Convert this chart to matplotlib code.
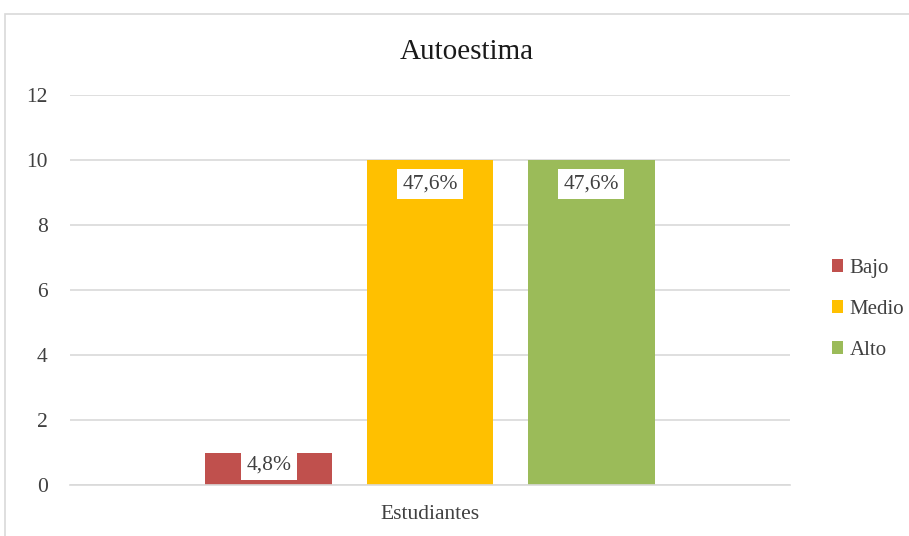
import matplotlib.pyplot as plt
from matplotlib.patches import Rectangle

# data
niveles = ['Bajo', 'Medio', 'Alto']
valores = [1, 10, 10]
etiquetas = ['4,8%', '47,6%', '47,6%']
colores = ['#C0504D', '#FFC000', '#9BBB59']
categoria = 'Estudiantes'

plt.rcParams['font.family'] = ['Liberation Serif', 'DejaVu Serif']

fig = plt.figure(figsize=(9.09, 5.36), dpi=100)
ax = fig.add_axes([0.077, 0.095, 0.792, 0.728])

# chart border
fig.patches.append(Rectangle((5 / 909, -0.01), 1.0, 1 - 14 / 536 + 0.01,
                             transform=fig.transFigure, fill=False,
                             edgecolor='#D9D9D9', linewidth=1.2))

ancho = 0.176
offsets = [-0.224, 0.0, 0.224]
for i, (n, v, e, c) in enumerate(zip(niveles, valores, etiquetas, colores)):
    ax.bar(offsets[i], v, width=ancho, color=c, label=n, zorder=2)
    alto_px = v * 390 / 12
    dy = -24 if alto_px > 50 else -alto_px / 2 + 4
    ax.annotate(e, (offsets[i], v), xytext=(0, dy), textcoords='offset pixels',
                ha='center', va='center', fontsize=15.5, color='#404040',
                bbox=dict(boxstyle='square,pad=0.25', fc='white', ec='none'),
                zorder=3)

ax.set_xlim(-0.5, 0.5)
ax.set_ylim(0, 12)
ax.set_yticks(range(0, 13, 2))
ax.set_xticks([0])
ax.set_xticklabels([categoria])
ax.tick_params(axis='both', length=0, labelsize=15.5, colors='#404040')
ax.tick_params(axis='y', pad=16)
ax.tick_params(axis='x', pad=14)
ax.yaxis.grid(True, color='#D9D9D9', linewidth=1.2, zorder=0)
ax.set_axisbelow(True)
for s in ['top', 'right', 'left']:
    ax.spines[s].set_visible(False)
ax.spines['bottom'].set_color('#D9D9D9')
ax.spines['bottom'].set_linewidth(1.2)

fig.text(467 / 909, 1 - 52 / 536, 'Autoestima', fontsize=21, color='#1a1a1a',
         ha='center', va='center')

ax.legend(loc='center left', bbox_to_anchor=(1.032, 0.45), frameon=False,
          fontsize=15, handlelength=0.55, handleheight=0.55, handletextpad=0.3,
          labelspacing=1.05, labelcolor='#404040')

plt.savefig('out.png', dpi=100)
